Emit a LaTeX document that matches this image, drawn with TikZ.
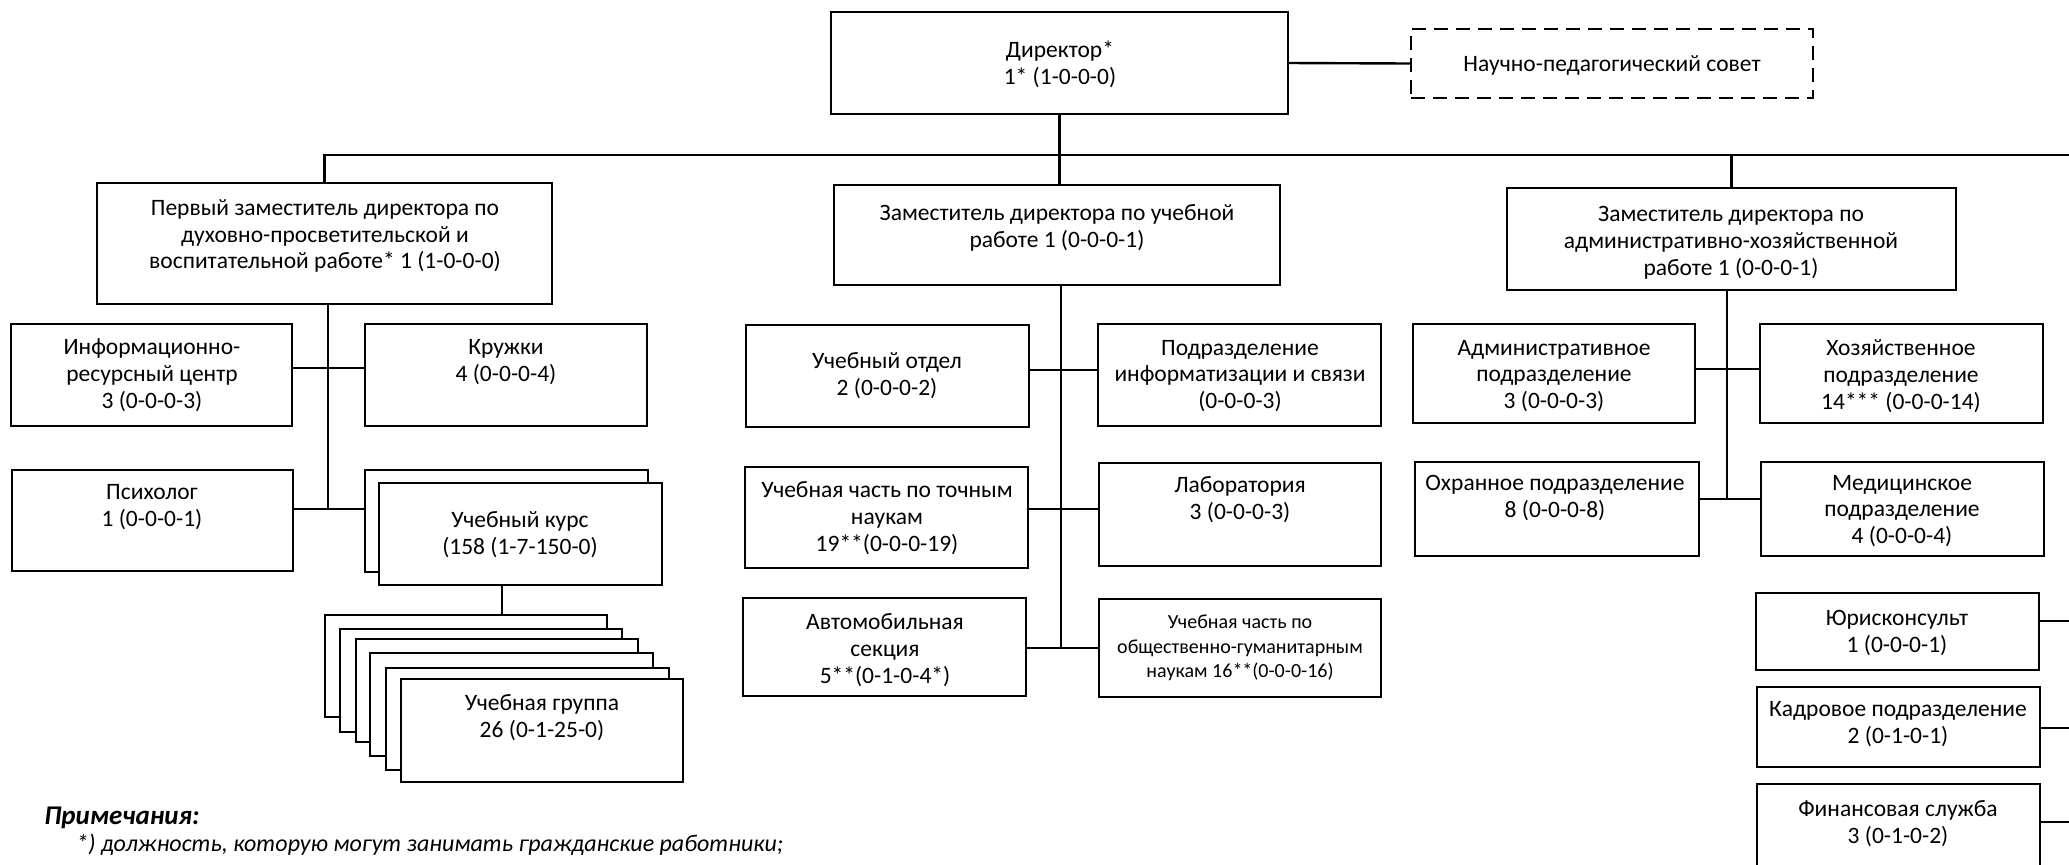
\documentclass[tikz,border=0pt]{standalone}
\usepackage{fontspec}
\setmainfont{Carlito}
\usetikzlibrary{fit}
\begin{document}
\begin{tikzpicture}[x=0.5pt,y=-0.5pt,
  box/.style={draw, line width=1.2pt, inner sep=0pt, fill=white},
  dbox/.style={draw, line width=1.2pt, inner sep=0pt, dash pattern=on 7pt off 4pt},
  txt/.style={align=center, inner sep=0pt, font=\fontsize{11.75}{13.4}\selectfont},
  stxt/.style={align=center, inner sep=0pt, font=\fontsize{10}{12.2}\selectfont},
  conn/.style={line width=1.2pt}]
\clip (0,0) rectangle (2069,864);
\fill[white] (0,0) rectangle (2069,864);

% top level
\node[box, fit={(831,12) (1288,114)}] (dir) {};
\node[txt] (tdir) at (1060,64) {Директор*\\1* (1-0-0-0)};
\node[dbox, fit={(1411,29) (1813,98)}] (council) {};
\node[txt] (tcouncil) at (1612,65) {Научно-педагогический совет};

\node[box, fit={(97,183) (552,304)}] (dep1) {};
\node[txt] (tdep1) at (325,236) {Первый заместитель директора по\\духовно-просветительской и\\воспитательной работе* 1 (1-0-0-0)};
\node[box, fit={(834,185) (1280,285)}] (dep2) {};
\node[txt] (tdep2) at (1057,228) {Заместитель директора по учебной\\работе 1 (0-0-0-1)};
\node[box, fit={(1507,188) (1956,290)}] (dep3) {};
\node[txt] (tdep3) at (1731,243) {Заместитель директора по\\административно-хозяйственной\\работе 1 (0-0-0-1)};

% first deputy subtree
\node[box, fit={(11,324) (292,426)}] (info) {};
\node[txt] (tinfo) at (152,375) {Информационно-\\ресурсный центр\\3 (0-0-0-3)};
\node[box, fit={(365,324) (647,426)}] (kruzhki) {};
\node[txt] (tkruzhki) at (506,362) {Кружки\\4 (0-0-0-4)};
\node[box, fit={(12,470) (293,571)}] (psych) {};
\node[txt] (tpsych) at (152,507) {Психолог\\1 (0-0-0-1)};
\node[box, fit={(365,470) (648,572)}] (courseB) {};
\node[box, fit={(379,483) (662,585)}] (courseF) {};
\node[txt] (tcourse) at (520,535) {Учебный курс\\(158 (1-7-150-0)};
\node[box, fit={(325,615) (607,717)}] (g1) {};
\node[box, fit={(340,629) (622,732)}] (g2) {};
\node[box, fit={(356,639) (638,742)}] (g3) {};
\node[box, fit={(370,653) (653,756)}] (g4) {};
\node[box, fit={(386,668) (669,770)}] (g5) {};
\node[box, fit={(401,679) (683,782)}] (g6) {};
\node[txt] (tgroup) at (542,718) {Учебная группа\\26 (0-1-25-0)};

% second deputy subtree
\node[box, fit={(746,325) (1029,427)}] (uo) {};
\node[txt] (tuo) at (887,376) {Учебный отдел\\2 (0-0-0-2)};
\node[box, fit={(1098,324) (1381,426)}] (inf) {};
\node[txt] (tinf) at (1240,376) {Подразделение\\информатизации и связи\\(0-0-0-3)};
\node[box, fit={(745,467) (1028,568)}] (tochn) {};
\node[txt] (ttochn) at (887,518) {Учебная часть по точным\\наукам\\19**(0-0-0-19)};
\node[box, fit={(1099,463) (1381,566)}] (lab) {};
\node[txt] (tlab) at (1240,500) {Лаборатория\\3 (0-0-0-3)};
\node[box, fit={(743,598) (1026,696)}] (auto) {};
\node[txt] (tauto) at (885,650) {Автомобильная\\секция\\5**(0-1-0-4*)};
\node[box, fit={(1099,599) (1381,697)}] (obsh) {};
\node[stxt] (tobsh) at (1240,648) {Учебная часть по\\общественно-гуманитарным\\наукам 16**(0-0-0-16)};

% third deputy subtree
\node[box, fit={(1413,324) (1695,423)}] (adm) {};
\node[txt] (tadm) at (1554,376) {Административное\\подразделение\\3 (0-0-0-3)};
\node[box, fit={(1760,324) (2043,423)}] (hoz) {};
\node[txt] (thoz) at (1901,376) {Хозяйственное\\подразделение\\14*** (0-0-0-14)};
\node[box, fit={(1415,462) (1699,556)}] (okh) {};
\node[txt] (tokh) at (1555,498) {Охранное подразделение\\8 (0-0-0-8)};
\node[box, fit={(1761,462) (2044,556)}] (med) {};
\node[txt] (tmed) at (1902,511) {Медицинское\\подразделение\\4 (0-0-0-4)};

% right column
\node[box, fit={(1756,593) (2039,670)}] (jur) {};
\node[txt] (tjur) at (1897,633) {Юрисконсульт\\1 (0-0-0-1)};
\node[box, fit={(1757,687) (2040,767)}] (kadr) {};
\node[txt] (tkadr) at (1898,724) {Кадровое подразделение\\2 (0-1-0-1)};
\node[box, fit={(1757,784) (2040,884)}] (fin) {};
\node[txt] (tfin) at (1898,824) {Финансовая служба\\3 (0-1-0-2)};

% connectors
\coordinate (busR) at (2069,155);
\draw[conn] (dir.east) -- (council.west);
\draw[conn] (dep1.north) |- (busR);
\draw[conn] (dir.south) -- (dir.south |- dep2.north);
\draw[conn] (dep3.north) -- (dep3.north |- busR);

\coordinate (h1) at (328,368);
\coordinate (v1) at (328,509);
\draw[conn] (dep1.south -| v1) -- (v1);
\draw[conn] (info.east |- h1) -- (kruzhki.west |- h1);
\draw[conn] (psych.east |- v1) -- (courseB.west |- v1);
\coordinate (cg) at (502,600);
\draw[conn] (courseF.south -| cg) -- (g1.north -| cg);

\coordinate (v2a) at (1061,370);
\coordinate (v2b) at (1061,509);
\coordinate (v2c) at (1061,648);
\draw[conn] (dep2.south -| v2c) -- (v2c);
\draw[conn] (uo.east |- v2a) -- (inf.west |- v2a);
\draw[conn] (tochn.east |- v2b) -- (lab.west |- v2b);
\draw[conn] (auto.east |- v2c) -- (obsh.west |- v2c);

\coordinate (v3a) at (1727,369);
\coordinate (v3b) at (1727,499);
\draw[conn] (dep3.south -| v3b) -- (v3b);
\draw[conn] (adm.east |- v3a) -- (hoz.west |- v3a);
\draw[conn] (okh.east |- v3b) -- (med.west |- v3b);

\coordinate (r1) at (2069,621);
\coordinate (r2) at (2069,728);
\coordinate (r3) at (2069,822);
\draw[conn] (jur.east |- r1) -- (r1);
\draw[conn] (kadr.east |- r2) -- (r2);
\draw[conn] (fin.east |- r3) -- (r3);

% notes
\node[anchor=west, inner sep=0pt, font=\fontsize{13.5}{16}\selectfont\bfseries\itshape] (notes) at (44,818) {Примечания:};
\node[anchor=west, inner sep=0pt, font=\fontsize{12}{14}\selectfont\itshape] (note1) at (76,845) {*) должность, которую могут занимать гражданские работники;};
\end{tikzpicture}
\end{document}
